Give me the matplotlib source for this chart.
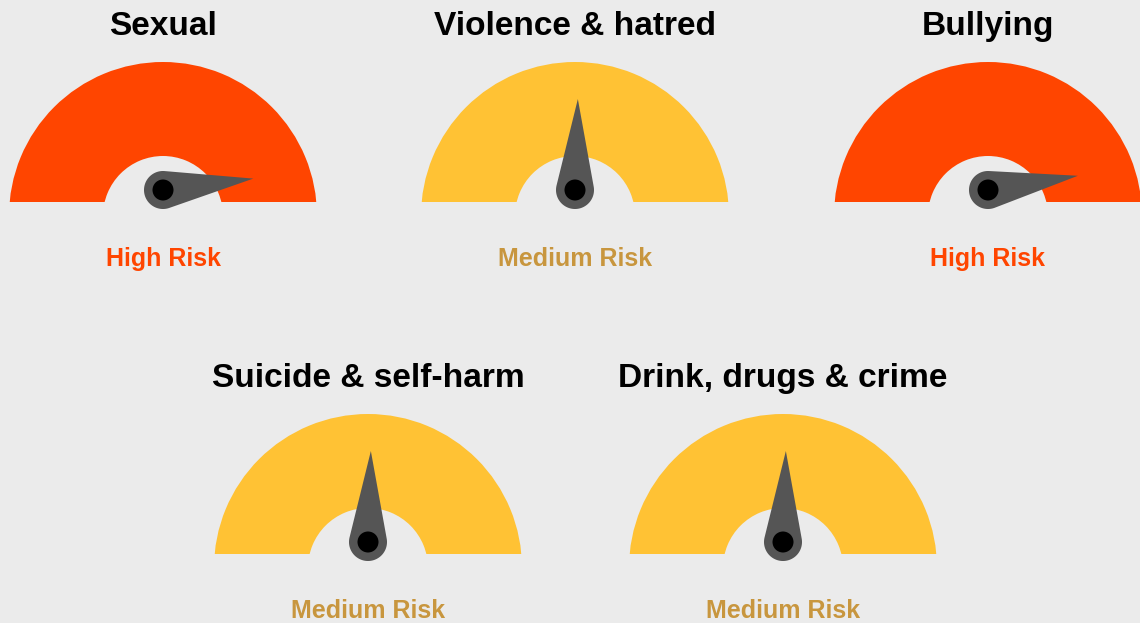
import numpy as np
import matplotlib
matplotlib.use("Agg")
import matplotlib.pyplot as plt
from matplotlib.patches import Wedge, Rectangle, Circle, Polygon

# ---- data ----
categories = ["Sexual", "Violence & hatred", "Bullying",
              "Suicide & self-harm", "Drink, drugs & crime"]
values = [96, 51, 95, 51, 51]          # needle position on a 0-100 scale
risk_labels = ["High Risk", "Medium Risk", "High Risk", "Medium Risk", "Medium Risk"]

# ---- styles / layout ----
risk_band_color = {"High Risk": "#FF4500", "Medium Risk": "#FFC234"}
risk_text_color = {"High Risk": "#FF4500", "Medium Risk": "#C8963E"}
bg = "#EBEBEB"
needle_col = "#555555"

# gauge layout in pixel coordinates (x center, baseline y)
centers_x = [163, 575, 988, 368, 783]
baselines = [202, 202, 202, 554, 554]
title_y = [35, 35, 35, 387, 387]
label_y = [266, 266, 266, 618, 618]

W, H = 1140, 623
fig = plt.figure(figsize=(W / 100, H / 100), dpi=100, facecolor=bg)
ax = fig.add_axes([0, 0, 1, 1])
ax.set_xlim(0, W)
ax.set_ylim(H, 0)
ax.set_aspect("equal")
ax.axis("off")
ax.set_facecolor(bg)

R_out, R_in, drop = 154, 60, 14
pivot_up = 12
needle_len = 91
base_r = 19
dot_r = 10.5
px2pt = 72 / 100

for cat, val, lab, cx, by, ty, ly in zip(categories, values, risk_labels,
                                         centers_x, baselines, title_y, label_y):
    # band
    ring = Wedge((cx, by + drop), R_out, 0, 360, width=R_out - R_in,
                 facecolor=risk_band_color[lab], edgecolor="none")
    ax.add_patch(ring)
    clip = Rectangle((cx - 200, by - 300), 400, 300, transform=ax.transData)
    ring.set_clip_path(clip)

    # needle
    a = np.deg2rad(180 - val / 100 * 180)
    px, py = cx, by - pivot_up
    ux, uy = np.cos(a), -np.sin(a)
    tip = (px + needle_len * ux, py + needle_len * uy)
    beta = np.arctan2(uy, ux)
    phi = np.arccos(base_r / needle_len)
    ts = np.linspace(beta + phi, beta + 2 * np.pi - phi, 80)
    pts = [tip] + [(px + base_r * np.cos(t), py + base_r * np.sin(t)) for t in ts]
    ax.add_patch(Polygon(pts, closed=True, facecolor=needle_col, edgecolor="none"))
    ax.add_patch(Circle((px, py), dot_r, facecolor="black", edgecolor="none"))

    # texts
    ax.text(cx, ty, cat, ha="center", va="baseline", fontsize=33.5 * px2pt,
            fontweight="bold", family="Liberation Sans", color="black")
    ax.text(cx, ly, lab, ha="center", va="baseline", fontsize=25 * px2pt,
            fontweight="bold", family="Liberation Sans", color=risk_text_color[lab])

fig.savefig("out.png", dpi=100, facecolor=bg)
